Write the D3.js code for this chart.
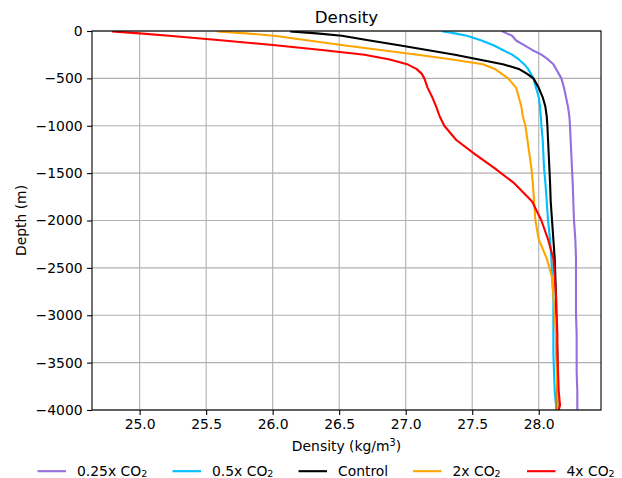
<!DOCTYPE html>
<html>
<head>
<meta charset="utf-8">
<script src="https://cdn.jsdelivr.net/npm/d3@7"></script>
<style>
  html, body { margin: 0; padding: 0; background: #fff; }
  svg text { font-family: "DejaVu Sans", sans-serif; fill: #000; }
</style>
</head>
<body>
<svg id="chart" width="622" height="478"></svg>
<script>
// ---- data ----
const depths = [-5, -25, -50, -100, -150, -200, -250, -300, -350, -400, -450, -500, -600, -700, -800, -900, -1000, -1150, -1300, -1450, -1600, -1800, -2000, -2200, -2400, -2600, -2800, -3000, -3200, -3400, -3600, -3800, -3950, -4000];
const co2_025 = [27.73, 27.76, 27.80, 27.83, 27.89, 27.95, 28.02, 28.07, 28.11, 28.13, 28.15, 28.17, 28.19, 28.205, 28.22, 28.23, 28.235, 28.24, 28.245, 28.25, 28.255, 28.26, 28.265, 28.275, 28.28, 28.28, 28.28, 28.28, 28.285, 28.285, 28.285, 28.29, 28.29, 28.29];
const co2_05 = [27.28, 27.37, 27.46, 27.57, 27.66, 27.73, 27.80, 27.85, 27.89, 27.92, 27.94, 27.96, 27.98, 28.00, 28.01, 28.015, 28.02, 28.03, 28.035, 28.04, 28.05, 28.06, 28.07, 28.085, 28.095, 28.10, 28.11, 28.11, 28.11, 28.11, 28.115, 28.12, 28.13, 28.13];
const control = [26.14, 26.33, 26.52, 26.73, 26.95, 27.16, 27.37, 27.55, 27.73, 27.85, 27.91, 27.96, 28.00, 28.03, 28.05, 28.06, 28.065, 28.07, 28.075, 28.08, 28.085, 28.09, 28.10, 28.11, 28.12, 28.125, 28.13, 28.13, 28.135, 28.14, 28.14, 28.14, 28.14, 28.14];
const co2_2x = [25.59, 25.80, 26.01, 26.27, 26.53, 26.81, 27.09, 27.35, 27.58, 27.67, 27.72, 27.77, 27.83, 27.85, 27.87, 27.88, 27.90, 27.915, 27.93, 27.945, 27.955, 27.965, 27.975, 28.00, 28.06, 28.10, 28.11, 28.12, 28.13, 28.13, 28.135, 28.14, 28.14, 28.14];
const co2_4x = [24.80, 25.00, 25.22, 25.63, 26.02, 26.37, 26.69, 26.88, 27.01, 27.08, 27.12, 27.14, 27.165, 27.20, 27.23, 27.255, 27.29, 27.38, 27.52, 27.67, 27.81, 27.95, 28.02, 28.07, 28.11, 28.12, 28.13, 28.135, 28.14, 28.14, 28.145, 28.15, 28.16, 28.15];
const seriesNames = ["0.25x CO", "0.5x CO", "Control", "2x CO", "4x CO"];
const seriesSub = ["2", "2", "", "2", "2"];
const seriesColors = ["#9370DB", "#00BFFF", "#000000", "#FFA500", "#FF0000"];
const xTicks = [25.0, 25.5, 26.0, 26.5, 27.0, 27.5, 28.0];
const yTicks = [0, -500, -1000, -1500, -2000, -2500, -3000, -3500, -4000];

const seriesValues = [co2_025, co2_05, control, co2_2x, co2_4x];

// ---- layout ----
const svg = d3.select("#chart");
const pL = 92, pR = 601, pT = 31, pB = 410;
const x = d3.scaleLinear().domain([24.642, 28.468]).range([pL, pR]);
const y = d3.scaleLinear().domain([0, -4000]).range([pT, pB]);
const fmtMinus = v => (v < 0 ? "\u2212" + Math.abs(v) : String(v));

// grid
const g = svg.append("g");
g.selectAll(".vg").data(xTicks).join("line")
  .attr("x1", d => x(d)).attr("x2", d => x(d))
  .attr("y1", pT).attr("y2", pB)
  .attr("stroke", "#b0b0b0").attr("stroke-width", 1.1);
g.selectAll(".hg").data(yTicks).join("line")
  .attr("y1", d => y(d)).attr("y2", d => y(d))
  .attr("x1", pL).attr("x2", pR)
  .attr("stroke", "#b0b0b0").attr("stroke-width", 1.1);

// clip
svg.append("clipPath").attr("id", "clip").append("rect")
  .attr("x", pL).attr("y", pT).attr("width", pR - pL).attr("height", pB - pT);

// lines
const line = d3.line().x(d => x(d[0])).y(d => y(d[1]));
const lg = svg.append("g").attr("clip-path", "url(#clip)");
seriesValues.forEach((vals, i) => {
  lg.append("path")
    .attr("d", line(vals.map((v, k) => [v, depths[k]])))
    .attr("fill", "none")
    .attr("stroke", seriesColors[i])
    .attr("stroke-width", 2.1)
    .attr("stroke-linejoin", "round")
    .attr("stroke-linecap", "square");
});

// axes
const xAxis = d3.axisBottom(x).tickValues(xTicks).tickFormat(d3.format(".1f")).tickSizeOuter(0).tickSize(4.9).tickPadding(4.5);
const yAxis = d3.axisLeft(y).tickValues(yTicks).tickFormat(fmtMinus).tickSizeOuter(0).tickSize(4.9).tickPadding(4.5);
const xa = svg.append("g").attr("transform", `translate(0,${pB})`).call(xAxis);
const ya = svg.append("g").attr("transform", `translate(${pL},0)`).call(yAxis);
[xa, ya].forEach(a => {
  a.select(".domain").remove();
  a.selectAll(".tick line").attr("stroke", "#000").attr("stroke-width", 1.1);
  a.selectAll(".tick text").attr("font-size", "13.9px").attr("font-family", "DejaVu Sans");
});

// spines
svg.append("rect").attr("x", pL).attr("y", pT).attr("width", pR - pL).attr("height", pB - pT)
  .attr("fill", "none").attr("stroke", "#000").attr("stroke-width", 1.1);

// title
svg.append("text").attr("x", (pL + pR) / 2).attr("y", 23)
  .attr("text-anchor", "middle").attr("font-size", "16.7px").text("Density");

// x label
const xl = svg.append("text").attr("x", (pL + pR) / 2).attr("y", 451)
  .attr("text-anchor", "middle").attr("font-size", "13.9px");
xl.append("tspan").text("Density (kg/m");
xl.append("tspan").attr("font-size", "9.7px").attr("dy", -5.5).text("3");
xl.append("tspan").attr("dy", 5.5).text(")");

// y label
svg.append("text").attr("transform", `translate(26,${(pT + pB) / 2}) rotate(-90)`)
  .attr("text-anchor", "middle").attr("font-size", "13.9px").text("Depth (m)");

// legend
const legX = [37.5, 172.5, 298.5, 413, 527];
const leg = svg.append("g");
seriesNames.forEach((name, i) => {
  const lx = legX[i];
  leg.append("line").attr("x1", lx).attr("x2", lx + 28.5)
    .attr("y1", 471.2).attr("y2", 471.2)
    .attr("stroke", seriesColors[i]).attr("stroke-width", 2.1);
  const t = leg.append("text").attr("x", lx + 39.5).attr("y", 475.5).attr("font-size", "13.9px");
  t.append("tspan").text(name);
  if (seriesSub[i]) t.append("tspan").attr("font-size", "9.5px").attr("dy", 1.6).text(seriesSub[i]);
});
</script>
</body>
</html>
